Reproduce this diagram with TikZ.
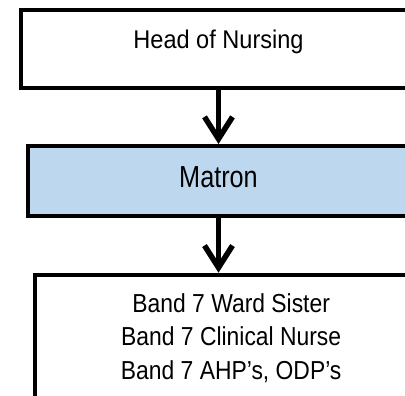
\documentclass[tikz,border=0pt]{standalone}
\usepackage{fontspec}
\setmainfont{Liberation Sans}[FakeStretch=0.88]
\newfontfamily\headfont{Liberation Sans}[FakeStretch=0.92]
\newfontfamily\matronfont{Liberation Sans}[FakeStretch=0.83]
\usepackage{tikz}
\usetikzlibrary{positioning,arrows.meta}
\definecolor{matronblue}{RGB}{189,215,238}
\tikzset{
orgbox/.style={draw=black,line width=4pt,rectangle,inner sep=0pt,align=center}
, headbox/.style={orgbox,minimum width=396pt,minimum height=77.5pt,text height=18.3pt,text depth=18.7pt,font=\headfont\fontsize{25.6}{31}\selectfont}
, matronbox/.style={orgbox,fill=matronblue,minimum width=381pt,minimum height=69.8pt,text height=21.8pt,text depth=8.2pt,font=\matronfont\fontsize{30.4}{36}\selectfont}
, bandbox/.style={orgbox,minimum width=391.7pt,minimum height=126.6pt,font=\fontsize{26}{33.3}\selectfont}
, linkarrow/.style={line width=5.5pt,-{Straight Barb[length=22pt,width=28pt]}}}
\def\bandseven{Band 7}

\begin{document}
\begin{tikzpicture}[x=1pt,y=-1pt]
\useasboundingbox (0,0) rectangle (405,396);
\clip (0,0) rectangle (405,396);
\node[headbox] at (218.5, 49.05) (head) {Head of Nursing};
\node[matronbox,below=54.2pt of head] (matron) {Matron};
\node[bandbox,below=54.9pt of matron,xshift=12.7pt] (band) {\bandseven{} Ward Sister\\\bandseven{} Clinical Nurse\\\bandseven{} AHP’s, ODP’s};
\draw [linkarrow] (head.south) -- (matron.north);
\draw [linkarrow] (matron.south) -- (matron.south |- band.north);
\end{tikzpicture}
\end{document}
